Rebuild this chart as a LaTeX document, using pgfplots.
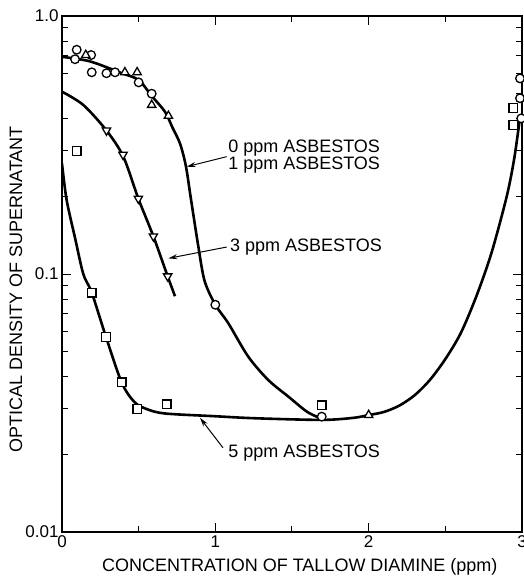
\documentclass[border=0pt]{standalone}
\usepackage{fontspec}
\setmainfont{Liberation Sans}
\usepackage{pgfplots}
\pgfplotsset{compat=1.18}
\usetikzlibrary{arrows.meta}
\begin{document}
\begin{tikzpicture}
\begin{semilogyaxis}[name=ax, scale only axis, width=460pt, height=516pt,
    xmin=0, xmax=3, ymin=0.01, ymax=1,
    xtick={0,1,2,3}, xticklabels={0,1,2,3},
    minor xtick={0.5,1.5,2.5},
    ytick={0.01,0.1,1}, yticklabels={0.01,0.1,1.0},
    minor ytick={0.02,0.03,0.04,0.05,0.06,0.07,0.08,0.09,0.2,0.3,0.4,0.5,0.6,0.7,0.8,0.9},
    tick align=inside,
    major tick length=9pt, minor tick length=6pt,
    tick style={black, line width=1pt},
    axis line style={line width=1.2pt},
    tick label style={font=\fontsize{17}{17}\selectfont},
    label style={font=\fontsize{18}{18}\selectfont},
    xlabel={CONCENTRATION OF TALLOW DIAMINE (ppm)},
    ylabel={OPTICAL DENSITY OF SUPERNATANT},
    xlabel style={at={(axis description cs:0.517,0)}, anchor=center, yshift=-35pt},
    ylabel style={at={([xshift=-46pt]axis description cs:0,0.47)}, anchor=center},
    clip=true,
]
% curves
\addplot[black, line width=2.6pt, smooth, tension=0.5] coordinates {
  (0,0.695) (0.17,0.67) (0.30,0.63) (0.39,0.60) (0.50,0.565) (0.585,0.49)
  (0.672,0.425) (0.72,0.37) (0.77,0.32) (0.808,0.262) (0.84,0.197)
  (0.889,0.128) (0.93,0.094) (1.0,0.076) (1.085,0.0644) (1.215,0.0478)
  (1.346,0.0388) (1.476,0.0335) (1.6,0.0292) (1.7,0.0274)};
\addplot[black, line width=2.6pt, smooth, tension=0.5] coordinates {
  (0,0.509) (0.139,0.452) (0.29,0.36) (0.40,0.285) (0.498,0.196)
  (0.596,0.14) (0.689,0.098) (0.737,0.082)};
\addplot[black, line width=2.6pt, smooth, tension=0.5] coordinates {
  (0,0.268) (0.03,0.194) (0.085,0.138) (0.139,0.1) (0.194,0.0847)
  (0.287,0.057) (0.389,0.038) (0.47,0.032) (0.55,0.030) (0.672,0.0288)
  (1.0,0.0281) (1.26,0.0276) (1.694,0.0272) (1.9,0.0277) (2.0,0.0284)
  (2.1,0.0292) (2.2,0.0309) (2.3,0.0339) (2.4,0.0389) (2.5,0.0468)
  (2.6,0.0589) (2.7,0.0813) (2.8,0.1202) (2.9,0.1995) (2.95,0.2818) (2.99,0.417)};
% 0 ppm: circles
\addplot[only marks, mark=*, mark size=4.3pt,
  mark options={fill=white, draw=black, line width=1.3pt}] coordinates {
  (0.085,0.68) (0.096,0.74) (0.19,0.706) (0.194,0.605) (0.29,0.60)
  (0.346,0.605) (0.50,0.553) (0.585,0.50) (1.0,0.076) (1.694,0.028)
  (2.987,0.573) (2.987,0.48) (2.995,0.401)};
% 1 ppm: triangles
\addplot[only marks, mark=triangle*, mark size=4.8pt,
  mark options={fill=white, draw=black, line width=1.3pt}] coordinates {
  (0.155,0.706) (0.41,0.605) (0.49,0.605) (0.585,0.452) (0.694,0.41) (2.0,0.0284)};
% 3 ppm: down triangles
\addplot[only marks, mark=triangle*, mark size=4.8pt,
  mark options={fill=white, draw=black, line width=1.3pt, rotate=180}] coordinates {
  (0.29,0.36) (0.398,0.29) (0.498,0.196) (0.596,0.14) (0.689,0.098)};
% 5 ppm: squares
\addplot[only marks, mark=square*, mark size=4.3pt,
  mark options={fill=white, draw=black, line width=1.3pt}] coordinates {
  (0.096,0.30) (0.194,0.0847) (0.287,0.057) (0.389,0.038) (0.491,0.030)
  (0.683,0.0313) (1.694,0.031) (2.944,0.44) (2.944,0.378)};
% labels
\node[anchor=west, inner sep=0pt, font=\fontsize{18}{18}\selectfont] at (axis cs:1.083,0.308) {0 ppm ASBESTOS};
\node[anchor=west, inner sep=0pt, font=\fontsize{18}{18}\selectfont] at (axis cs:1.083,0.2646) {1 ppm ASBESTOS};
\node[anchor=west, inner sep=0pt, font=\fontsize{18}{18}\selectfont] at (axis cs:1.0957,0.1276) {3 ppm ASBESTOS};
\node[anchor=west, inner sep=0pt, font=\fontsize{18}{18}\selectfont] at (axis cs:1.083,0.0202) {5 ppm ASBESTOS};
\draw[line width=1pt, -{Stealth[length=9pt,width=5pt]}] (axis cs:1.074,0.285) -- (axis cs:0.813,0.2606);
\draw[line width=1pt, -{Stealth[length=9pt,width=5pt]}] (axis cs:1.074,0.1272) -- (axis cs:0.6933,0.115);
\draw[line width=1pt, -{Stealth[length=9pt,width=5pt]}] (axis cs:1.05,0.0212) -- (axis cs:0.9,0.0277);
\end{semilogyaxis}
\pgfresetboundingbox
\useasboundingbox ([shift={(-62pt,-50pt)}]ax.south west) rectangle ([shift={(2pt,16pt)}]ax.north east);
\end{tikzpicture}
\end{document}
